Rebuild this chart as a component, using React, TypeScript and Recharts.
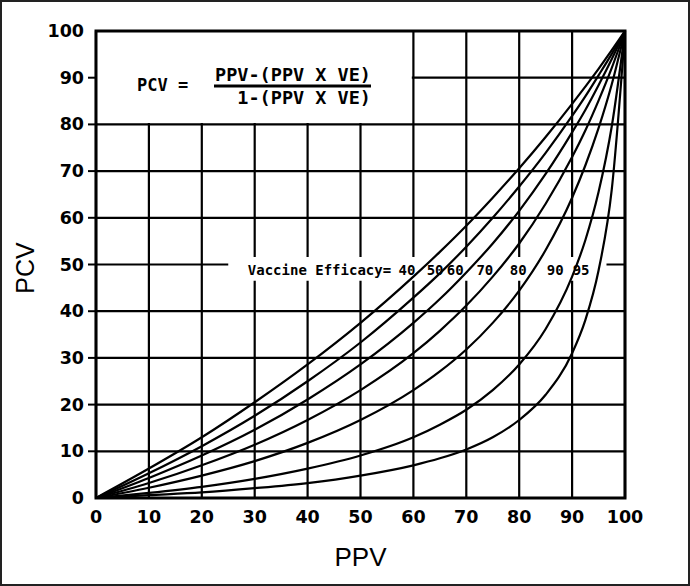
import {
  LineChart,
  Line,
  XAxis,
  YAxis,
  CartesianGrid,
  ReferenceArea,
  ReferenceDot,
} from "recharts";

// PPV (%) sample points and PCV (%)
const ppv = [0, 10, 20, 30, 40, 50, 60, 65, 70, 75, 80, 85, 90, 92.5, 95, 97.5, 100];
const pcv40 = [0, 6.3, 13.0, 20.5, 28.6, 37.5, 47.4, 52.7, 58.3, 64.3, 70.6, 77.3, 84.4, 88.1, 91.9, 95.9, 100];
const pcv50 = [0, 5.3, 11.1, 17.6, 25.0, 33.3, 42.9, 48.1, 53.8, 60.0, 66.7, 73.9, 81.8, 86.0, 90.5, 95.1, 100];
const pcv60 = [0, 4.3, 9.1, 14.6, 21.1, 28.6, 37.5, 42.6, 48.3, 54.5, 61.5, 69.4, 78.3, 83.1, 88.4, 94.0, 100];
const pcv70 = [0, 3.2, 7.0, 11.4, 16.7, 23.1, 31.0, 35.8, 41.2, 47.4, 54.5, 63.0, 73.0, 78.7, 85.1, 92.1, 100];
const pcv80 = [0, 2.2, 4.8, 7.9, 11.8, 16.7, 23.1, 27.1, 31.8, 37.5, 44.4, 53.1, 64.3, 71.2, 79.2, 88.6, 100];
const pcv90 = [0, 1.1, 2.4, 4.1, 6.3, 9.1, 13.0, 15.7, 18.9, 23.1, 28.6, 36.2, 47.4, 55.2, 65.5, 79.6, 100];
const pcv95 = [0, 0.6, 1.2, 2.1, 3.2, 4.8, 7.0, 8.5, 10.4, 13.0, 16.7, 22.1, 31.0, 38.1, 48.7, 66.1, 100];

const ticks = [0, 10, 20, 30, 40, 50, 60, 70, 80, 90, 100];
const efficacyLabels = ["40", "50", "60", "70", "80", "90", "95"];

const series = [
  { key: "ve40", values: pcv40 },
  { key: "ve50", values: pcv50 },
  { key: "ve60", values: pcv60 },
  { key: "ve70", values: pcv70 },
  { key: "ve80", values: pcv80 },
  { key: "ve90", values: pcv90 },
  { key: "ve95", values: pcv95 },
];

const data = ppv.map((x, i) => {
  const row: Record<string, number> = { ppv: x };
  series.forEach((s) => (row[s.key] = s.values[i]));
  return row;
});

// where the efficacy numbers sit along the annotation row (PPV units)
const efficacyLabelAt = [58.8, 64.1, 67.9, 73.5, 79.8, 86.8, 91.7];

const W = 690;
const H = 586;
const margin = { top: 31, right: 15, bottom: 28, left: 36 };
const LEFT_W = 60;
const RIGHT_W = 50;
const PLOT_L = margin.left + LEFT_W;
const PLOT_R = W - margin.right - RIGHT_W;
const PLOT_B = H - margin.bottom - 60;

const tickFont = { fontFamily: "DejaVu Sans", fontWeight: 700, fontSize: 17.5, fill: "#000" };
const monoFont = { fontFamily: "DejaVu Sans Mono", fontWeight: 700, fill: "#000" };

function LeftTick(props: any) {
  const v = props.payload.value;
  return (
    <g>
      {v !== 0 && v !== 100 && (
        <line x1={PLOT_L - 8} x2={PLOT_L} y1={props.y} y2={props.y} stroke="#000" strokeWidth={2} />
      )}
      <text x={PLOT_L - 12} y={props.y} textAnchor="end" dominantBaseline="central" {...tickFont}>
        {v}
      </text>
    </g>
  );
}

function RightTick(props: any) {
  const v = props.payload.value;
  return (
    <g>
      {v !== 0 && v !== 100 && (
        <line x1={PLOT_R} x2={PLOT_R + 9} y1={props.y} y2={props.y} stroke="#000" strokeWidth={2} />
      )}
      <text x={PLOT_R + 10} y={props.y} textAnchor="start" dominantBaseline="central" {...tickFont}>
        {v}
      </text>
    </g>
  );
}

function BottomTick(props: any) {
  return (
    <text x={props.x} y={PLOT_B + 19} textAnchor="middle" dominantBaseline="central" {...tickFont}>
      {props.payload.value}
    </text>
  );
}

function Formula({ viewBox }: any) {
  const { x, y } = viewBox;
  return (
    <g>
      <text x={x + 41} y={y + 54} dominantBaseline="central" {...monoFont} fontSize={17}>
        PCV =
      </text>
      <text x={x + 275} y={y + 43} textAnchor="end" dominantBaseline="central" {...monoFont} fontSize={18.5}>
        PPV-(PPV X VE)
      </text>
      <line x1={x + 118} x2={x + 275} y1={y + 55} y2={y + 55} stroke="#000" strokeWidth={3} />
      <text x={x + 275} y={y + 66} textAnchor="end" dominantBaseline="central" {...monoFont} fontSize={18.5}>
        1-(PPV X VE)
      </text>
    </g>
  );
}

function smallLabel(text: string, anchor: "start" | "middle") {
  return ({ viewBox }: any) => (
    <text
      x={viewBox.x + viewBox.width / 2}
      y={viewBox.y + viewBox.height / 2}
      textAnchor={anchor}
      dominantBaseline="central"
      {...monoFont}
      fontSize={14}
    >
      {text}
    </text>
  );
}

export default function App() {
  return (
    <div
      style={{
        position: "absolute",
        left: 0,
        top: 0,
        width: W,
        height: H,
        background: "#fff",
        boxShadow: "inset 0 0 0 2px #222",
      }}
    >
      <LineChart width={W} height={H} data={data} margin={margin}>
        <CartesianGrid yAxisId="l" stroke="#000" strokeWidth={2.2} />
        <XAxis
          dataKey="ppv"
          type="number"
          domain={[0, 100]}
          ticks={ticks}
          height={60}
          axisLine={false}
          tickLine={false}
          tick={<BottomTick />}
          label={{
            content: () => (
              <text
                x={(PLOT_L + PLOT_R) / 2}
                y={557}
                textAnchor="middle"
                dominantBaseline="central"
                fontFamily="Liberation Sans"
                fontSize={26}
                fill="#000"
              >
                PPV
              </text>
            ),
          }}
        />
        <YAxis
          yAxisId="l"
          type="number"
          domain={[0, 100]}
          ticks={ticks}
          width={LEFT_W}
          axisLine={false}
          tickLine={false}
          tick={<LeftTick />}
          label={{
            content: () => (
              <text
                transform="translate(25,268) rotate(-90)"
                textAnchor="middle"
                dominantBaseline="central"
                fontFamily="Liberation Sans"
                fontSize={25}
                fill="#000"
              >
                PCV
              </text>
            ),
          }}
        />
        <YAxis
          yAxisId="r"
          orientation="right"
          type="number"
          domain={[0, 100]}
          ticks={ticks}
          width={RIGHT_W}
          axisLine={false}
          tickLine={false}
          tick={<RightTick />}
        />
        <ReferenceArea
          yAxisId="l"
          x1={0}
          x2={59.7}
          y1={80.3}
          y2={100}
          fill="#fff"
          fillOpacity={1}
          stroke="none"
          label={{ content: Formula }}
        />
        <ReferenceArea yAxisId="l" x1={25} x2={96.5} y1={46.5} y2={51.6} fill="#fff" fillOpacity={1} stroke="none" />
        {series.map((s) => (
          <Line
            key={s.key}
            yAxisId="l"
            dataKey={s.key}
            type="monotone"
            stroke="#000"
            strokeWidth={2.2}
            dot={false}
            isAnimationActive={false}
          />
        ))}
        <ReferenceDot
          yAxisId="l"
          x={28.7}
          y={48.8}
          r={0}
          fill="none"
          stroke="none"
          label={{ content: smallLabel("Vaccine Efficacy=", "start") }}
        />
        {efficacyLabels.map((t, i) => (
          <ReferenceDot
            key={t}
            yAxisId="l"
            x={efficacyLabelAt[i]}
            y={48.8}
            r={0}
            fill="none"
            stroke="none"
            label={{ content: smallLabel(t, "middle") }}
          />
        ))}
        <ReferenceArea
          yAxisId="l"
          x1={0}
          x2={100}
          y1={0}
          y2={100}
          fill="none"
          stroke="#000"
          strokeWidth={3}
        />
      </LineChart>
    </div>
  );
}
